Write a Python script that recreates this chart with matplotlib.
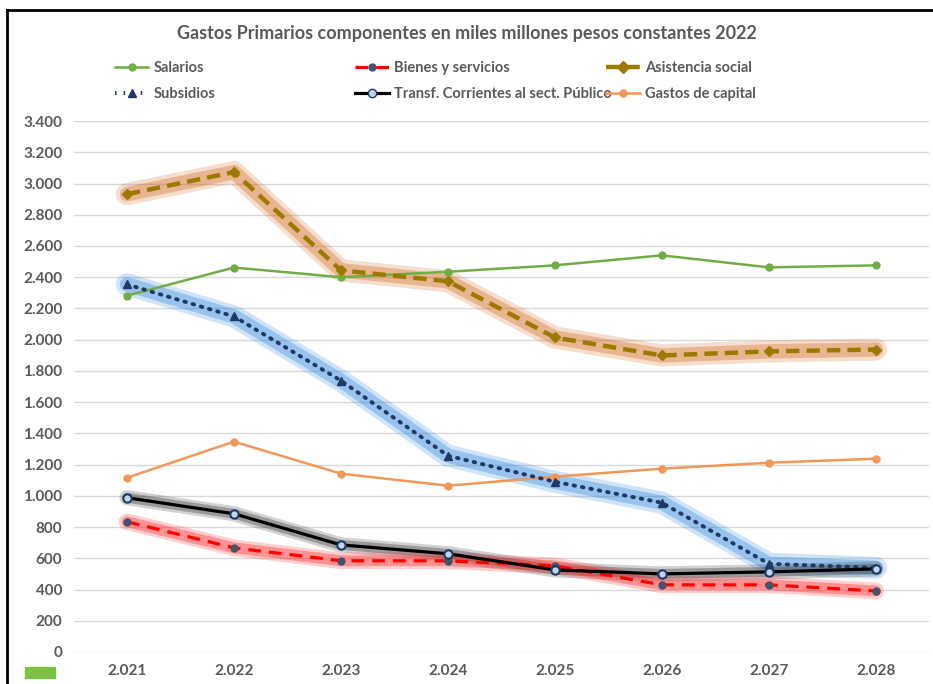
import matplotlib.pyplot as plt
from matplotlib.lines import Line2D
from matplotlib.patches import Rectangle

plt.rcParams['font.family'] = ['Lato', 'DejaVu Sans']

# Datos (miles de millones de pesos constantes 2022)
years = ['2.021', '2.022', '2.023', '2.024', '2.025', '2.026', '2.027', '2.028']
salarios = [2282, 2462, 2400, 2435, 2476, 2540, 2463, 2476]
bienes = [834, 667, 584, 584, 552, 430, 430, 391]
asistencia = [2932, 3073, 2444, 2374, 2014, 1899, 1925, 1937]
subsidios = [2354, 2149, 1738, 1257, 1090, 956, 565, 539]
transf = [988, 885, 686, 629, 526, 500, 513, 532]
capital = [1116, 1347, 1142, 1065, 1123, 1174, 1212, 1238]

yticks = list(range(0, 3401, 200))
ytick_labels = [f"{v:,}".replace(',', '.') for v in yticks]

fig = plt.figure(figsize=(9.33, 6.84), dpi=100)
ax = fig.add_axes([0.0788, 0.0468, 0.9172, 0.7762])
x = list(range(len(years)))

# Glow under some series
def glow(vals, color, w):
    ax.plot(x, vals, color=color, lw=w, alpha=0.22, solid_capstyle='round',
            solid_joinstyle='round', zorder=1)
    ax.plot(x, vals, color=color, lw=w * 0.65, alpha=0.35, solid_capstyle='round',
            solid_joinstyle='round', zorder=1)

glow(asistencia, '#D2691E', 16)
glow(subsidios, '#2E86DE', 16)
glow(transf, '#333333', 11)
glow(bienes, '#FF2020', 12)

ax.plot(x, salarios, color='#70AD47', lw=1.8, marker='o', ms=5, zorder=3)
ax.plot(x, capital, color='#F1975A', lw=1.8, marker='o', ms=5, zorder=3)
ax.plot(x, asistencia, color='#9C7A00', lw=3.2, ls=(0, (3, 1.6)), marker='D', ms=5, zorder=3)
ax.plot(x, subsidios, color='#203864', lw=2.8, ls=(0, (0.4, 1.8)), dash_capstyle='round',
        marker='^', ms=5.5, zorder=3)
ax.plot(x, transf, color='black', lw=2.3, marker='o', ms=6, mfc='#BDD7EE', mec='#203864',
        mew=1.5, zorder=4)
ax.plot(x, bienes, color='#FF0000', lw=2.3, ls=(0, (4, 2.5)), marker='o', ms=5,
        mfc='#44546A', mec='#44546A', zorder=3)

ax.set_xlim(-0.5, 7.5)
ax.set_ylim(0, 3400)
ax.set_xticks(x)
ax.set_xticklabels(years)
ax.set_yticks(yticks)
ax.set_yticklabels(ytick_labels)
for lab in ax.get_xticklabels() + ax.get_yticklabels():
    lab.set_fontweight('bold')
    lab.set_color('#595959')
    lab.set_fontsize(11)
ax.tick_params(length=0)
ax.tick_params(axis='y', pad=8)
ax.tick_params(axis='x', pad=9)
ax.grid(axis='y', color='#D9D9D9', lw=1)
ax.set_axisbelow(True)
for s in ax.spines.values():
    s.set_visible(False)

fig.text(0.5, 0.951, 'Gastos Primarios componentes en miles millones pesos constantes 2022',
         ha='center', va='center', fontsize=13, fontweight='bold', color='#595959')

# Leyenda en tres columnas
h_sal = Line2D([], [], color='#70AD47', lw=1.8, marker='o', ms=5)
h_sub = Line2D([], [], color='#203864', lw=2.8, ls=(0, (0.4, 1.8)), marker='^', ms=6)
h_bie = Line2D([], [], color='#FF0000', lw=2.3, ls=(0, (4, 2.5)), marker='o', ms=5,
               mfc='#44546A', mec='#44546A')
h_tra = Line2D([], [], color='black', lw=2.3, marker='o', ms=6, mfc='#BDD7EE', mec='#203864')
h_asi = Line2D([], [], color='#9C7A00', lw=3.2, ls=(0, (3, 1.6)), marker='D', ms=6)
h_cap = Line2D([], [], color='#F1975A', lw=1.8, marker='o', ms=5)

cols = [([h_sal, h_sub], ['Salarios', 'Subsidios'], 0.123),
        ([h_bie, h_tra], ['Bienes y servicios', 'Transf. Corrientes al sect. Público'], 0.381),
        ([h_asi, h_cap], ['Asistencia social', 'Gastos de capital'], 0.650)]
for hs, ls, x0 in cols:
    leg = fig.legend(hs, ls, loc='upper left', bbox_to_anchor=(x0, 0.911), frameon=False,
                     handlelength=2.3, handletextpad=0.35, labelspacing=0.85,
                     borderaxespad=0, borderpad=0,
                     prop={'size': 10.5, 'weight': 'bold'})
    for t in leg.get_texts():
        t.set_color('#595959')

# marco y pequeño rectángulo verde
fig.add_artist(Line2D([0.0075, 1.0], [0.985, 0.985], color='black', lw=2,
                      transform=fig.transFigure))
fig.add_artist(Line2D([0.0075, 0.0075], [0.0, 0.985], color='black', lw=2,
                      transform=fig.transFigure))
fig.add_artist(Rectangle((0.027, 0.009), 0.032, 0.016, color='#7DC242',
                         transform=fig.transFigure))

fig.savefig('out.png', dpi=100)
